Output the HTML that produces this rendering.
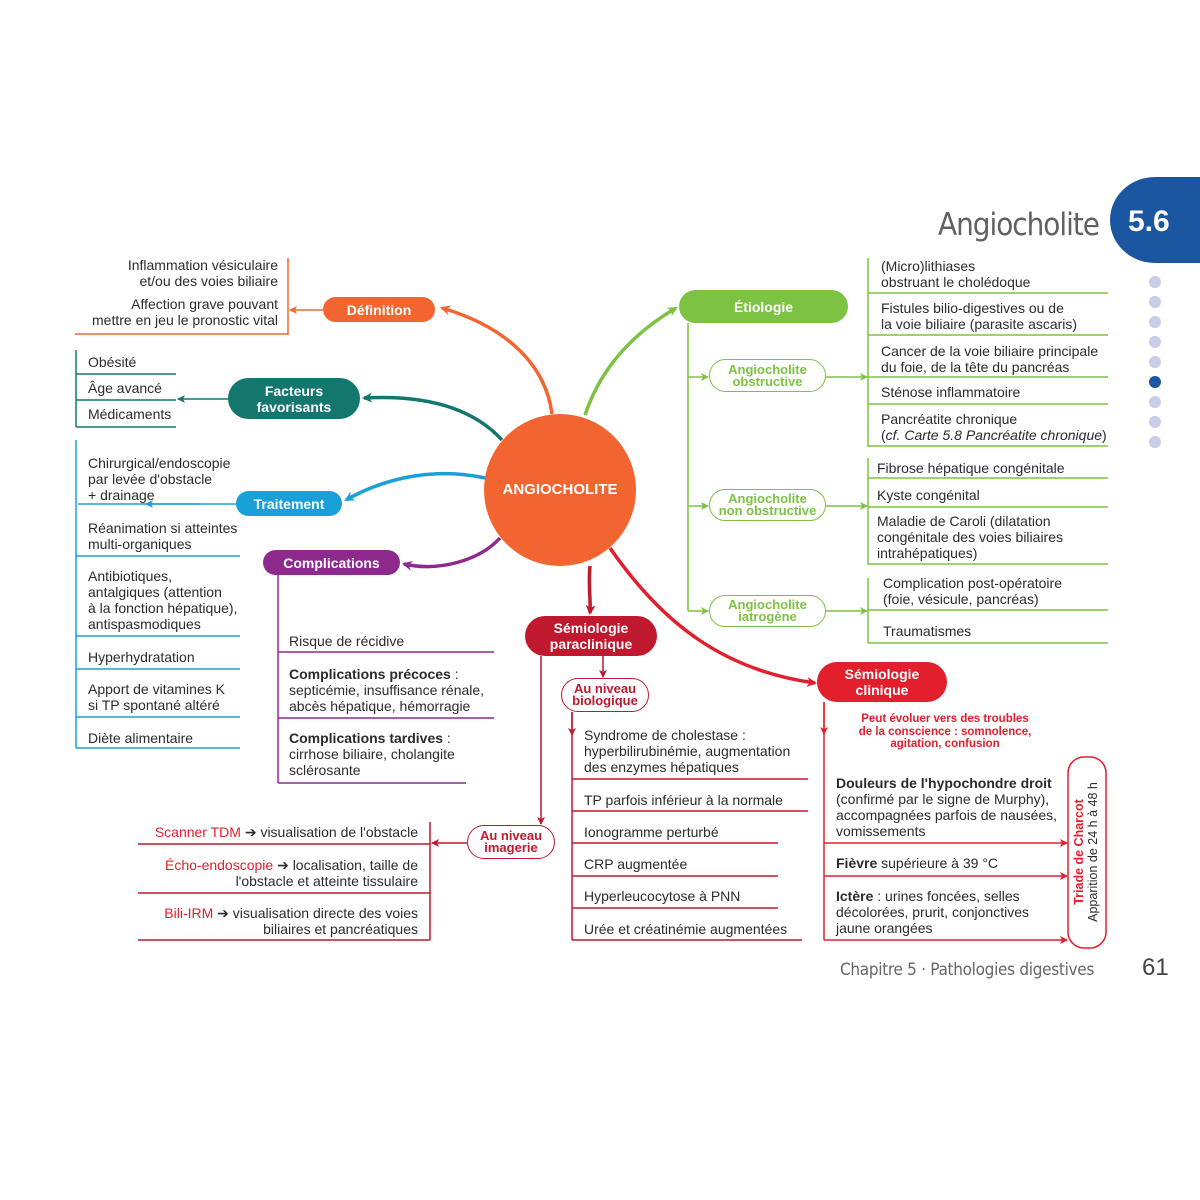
<!DOCTYPE html>
<html><head><meta charset="utf-8">
<style>
body{margin:0;width:1200px;height:1200px;background:#fff;position:relative;overflow:hidden;font-family:"Liberation Sans",sans-serif;}
.t{position:absolute;font-size:14px;line-height:16px;color:#2b2b2b;white-space:nowrap;}
.r{text-align:right;}
.p{position:absolute;border-radius:22px;color:#fff;font-weight:bold;font-size:14px;line-height:16px;text-align:center;display:flex;align-items:center;justify-content:center;}
.o{position:absolute;border-radius:18px;background:#fff;font-weight:bold;font-size:13px;line-height:12px;text-align:center;display:flex;align-items:center;justify-content:center;box-sizing:border-box;}
b{font-weight:bold;}
.red{color:#e31e2d;}
</style></head><body>
<svg width="1200" height="1200" style="position:absolute;left:0;top:0">
<defs>
<marker id="ao" markerWidth="10" markerHeight="10" refX="8" refY="5" orient="auto" markerUnits="userSpaceOnUse"><path d="M0,0 L10,5 L0,10 L3,5z" fill="#f26530"/></marker>
<marker id="at" markerWidth="10" markerHeight="10" refX="8" refY="5" orient="auto" markerUnits="userSpaceOnUse"><path d="M0,0 L10,5 L0,10 L3,5z" fill="#13776e"/></marker>
<marker id="ab" markerWidth="10" markerHeight="10" refX="8" refY="5" orient="auto" markerUnits="userSpaceOnUse"><path d="M0,0 L10,5 L0,10 L3,5z" fill="#1aa0d8"/></marker>
<marker id="ap" markerWidth="10" markerHeight="10" refX="8" refY="5" orient="auto" markerUnits="userSpaceOnUse"><path d="M0,0 L10,5 L0,10 L3,5z" fill="#8e2a8e"/></marker>
<marker id="ag" markerWidth="10" markerHeight="10" refX="8" refY="5" orient="auto" markerUnits="userSpaceOnUse"><path d="M0,0 L10,5 L0,10 L3,5z" fill="#7dc242"/></marker>
<marker id="ad" markerWidth="10" markerHeight="10" refX="8" refY="5" orient="auto" markerUnits="userSpaceOnUse"><path d="M0,0 L10,5 L0,10 L3,5z" fill="#c0182f"/></marker>
<marker id="ar" markerWidth="10" markerHeight="10" refX="8" refY="5" orient="auto" markerUnits="userSpaceOnUse"><path d="M0,0 L10,5 L0,10 L3,5z" fill="#e31e2d"/></marker>
<marker id="gs" markerWidth="8" markerHeight="8" refX="7" refY="4" orient="auto" markerUnits="userSpaceOnUse"><path d="M0,0 L8,4 L0,8 L2,4z" fill="#7dc242"/></marker>
<marker id="rs" markerWidth="8" markerHeight="8" refX="7" refY="4" orient="auto" markerUnits="userSpaceOnUse"><path d="M0,0 L8,4 L0,8 L2,4z" fill="#e31e2d"/></marker>
<marker id="ds" markerWidth="8" markerHeight="8" refX="7" refY="4" orient="auto" markerUnits="userSpaceOnUse"><path d="M0,0 L8,4 L0,8 L2,4z" fill="#c0182f"/></marker>
<marker id="os" markerWidth="8" markerHeight="8" refX="7" refY="4" orient="auto" markerUnits="userSpaceOnUse"><path d="M0,0 L8,4 L0,8 L2,4z" fill="#f26530"/></marker>
<marker id="ts" markerWidth="8" markerHeight="8" refX="7" refY="4" orient="auto" markerUnits="userSpaceOnUse"><path d="M0,0 L8,4 L0,8 L2,4z" fill="#13776e"/></marker>
<marker id="bs" markerWidth="8" markerHeight="8" refX="7" refY="4" orient="auto" markerUnits="userSpaceOnUse"><path d="M0,0 L8,4 L0,8 L2,4z" fill="#1aa0d8"/></marker>
</defs>
<path d="M1155,177 L1200,177 L1200,263 L1155,263 A45,43 0 0 1 1155,177z" fill="#1b56a0"/>
<g fill="#c8cde8"><circle cx="1155" cy="282" r="6"/><circle cx="1155" cy="302" r="6"/><circle cx="1155" cy="322" r="6"/><circle cx="1155" cy="342" r="6"/><circle cx="1155" cy="362" r="6"/><circle cx="1155" cy="402" r="6"/><circle cx="1155" cy="422" r="6"/><circle cx="1155" cy="442" r="6"/></g>
<circle cx="1155" cy="382" r="6" fill="#1b56a0"/>
<g fill="none" stroke-width="3.5">
<path d="M552,414 C545,360 500,325 442,308" stroke="#f26530" marker-end="url(#ao)"/>
<path d="M502,440 C470,405 420,395 364,398" stroke="#13776e" marker-end="url(#at)"/>
<path d="M485,478 C440,468 390,475 346,500" stroke="#1aa0d8" marker-end="url(#ab)"/>
<path d="M500,538 C480,560 440,572 404,564" stroke="#8e2a8e" marker-end="url(#ap)"/>
<path d="M585,415 C600,370 630,335 676,308" stroke="#7dc242" marker-end="url(#ag)"/>
<path d="M590,566 C588,585 591,600 590,613" stroke="#c0182f" marker-end="url(#ad)"/>
<path d="M610,548 C660,620 720,670 815,683" stroke="#e31e2d" marker-end="url(#ar)"/>
</g>
<g fill="none" stroke-width="1.5">
<g stroke="#f26530"><line x1="288" y1="258" x2="288" y2="335"/><line x1="75" y1="334" x2="288" y2="334"/><line x1="323" y1="310" x2="290" y2="310" marker-end="url(#os)"/></g>
<g stroke="#13776e"><line x1="76" y1="350" x2="76" y2="427"/><line x1="76" y1="374" x2="176" y2="374"/><line x1="76" y1="400" x2="176" y2="400"/><line x1="76" y1="427" x2="176" y2="427"/><line x1="228" y1="399" x2="178" y2="399" marker-end="url(#ts)"/></g>
<g stroke="#1aa0d8"><line x1="76" y1="440" x2="76" y2="748"/><line x1="236" y1="504" x2="78" y2="504"/><line x1="200" y1="504" x2="146" y2="504" marker-end="url(#bs)"/><line x1="76" y1="556" x2="240" y2="556"/><line x1="76" y1="636" x2="240" y2="636"/><line x1="76" y1="669" x2="240" y2="669"/><line x1="76" y1="717" x2="240" y2="717"/><line x1="76" y1="748" x2="240" y2="748"/></g>
<g stroke="#8e2a8e"><line x1="278" y1="575" x2="278" y2="783"/><line x1="278" y1="652" x2="494" y2="652"/><line x1="278" y1="718" x2="494" y2="718"/><line x1="278" y1="783" x2="466" y2="783"/></g>
<g stroke="#c0182f"><line x1="603" y1="656" x2="603" y2="677" marker-end="url(#ds)"/><line x1="541" y1="656" x2="541" y2="824" marker-end="url(#ds)"/>
<line x1="572" y1="712" x2="572" y2="940"/><line x1="572" y1="712" x2="572" y2="735" marker-end="url(#ds)"/>
<line x1="572" y1="779" x2="808" y2="779"/><line x1="572" y1="811" x2="808" y2="811"/><line x1="572" y1="843" x2="778" y2="843"/><line x1="572" y1="876" x2="778" y2="876"/><line x1="572" y1="908" x2="778" y2="908"/><line x1="572" y1="940" x2="802" y2="940"/>
<line x1="467" y1="843" x2="432" y2="843" marker-end="url(#ds)"/><line x1="430" y1="822" x2="430" y2="940"/><line x1="138" y1="844" x2="430" y2="844"/><line x1="138" y1="893" x2="430" y2="893"/><line x1="138" y1="940" x2="430" y2="940"/></g>
<g stroke="#e31e2d"><line x1="824" y1="702" x2="824" y2="940"/><line x1="824" y1="702" x2="824" y2="734" marker-end="url(#rs)"/>
<line x1="824" y1="843" x2="1067" y2="843" marker-end="url(#rs)"/><line x1="824" y1="876" x2="1067" y2="876" marker-end="url(#rs)"/><line x1="824" y1="940" x2="1067" y2="940" marker-end="url(#rs)"/>
<rect x="1068" y="757" width="38" height="191" rx="16"/></g>
<g stroke="#7dc242"><line x1="688" y1="323" x2="688" y2="611"/><line x1="688" y1="377" x2="708" y2="377" marker-end="url(#gs)"/><line x1="688" y1="506" x2="708" y2="506" marker-end="url(#gs)"/><line x1="688" y1="611" x2="708" y2="611" marker-end="url(#gs)"/>
<line x1="826" y1="377" x2="867" y2="377" marker-end="url(#gs)"/><line x1="826" y1="506" x2="867" y2="506" marker-end="url(#gs)"/><line x1="826" y1="611" x2="867" y2="611" marker-end="url(#gs)"/>
<line x1="868" y1="258" x2="868" y2="447"/><line x1="868" y1="458" x2="868" y2="565"/><line x1="868" y1="578" x2="868" y2="643"/>
<line x1="868" y1="293" x2="1108" y2="293"/><line x1="868" y1="335" x2="1108" y2="335"/><line x1="868" y1="377" x2="1108" y2="377"/><line x1="868" y1="404" x2="1108" y2="404"/><line x1="868" y1="446" x2="1108" y2="446"/><line x1="868" y1="478" x2="1108" y2="478"/><line x1="868" y1="507" x2="1108" y2="507"/><line x1="868" y1="564" x2="1108" y2="564"/><line x1="868" y1="610" x2="1108" y2="610"/><line x1="868" y1="643" x2="1108" y2="643"/></g>
</g>
<circle cx="560" cy="490" r="76" fill="#f26530"/>
<text x="1083" y="852" transform="rotate(-90 1083 852)" font-family="Liberation Sans" font-size="12.5" text-anchor="middle" fill="#e31e2d" font-weight="bold">Triade de Charcot</text>
<text x="1097" y="852" transform="rotate(-90 1097 852)" font-family="Liberation Sans" font-size="12.5" fill="#2b2b2b" text-anchor="middle">Apparition de 24 h à 48 h</text>
</svg>

<div class="t" style="left:938px;top:205px;font-size:31px;line-height:40px;color:#5f6068;font-family:'DejaVu Sans Condensed','Liberation Sans',sans-serif;letter-spacing:-1px">Angiocholite</div>
<div class="t" style="left:1128px;top:205px;font-size:30px;line-height:34px;color:#fff;font-weight:bold">5.6</div>

<div class="t" style="left:484px;top:482px;width:152px;text-align:center;color:#fff;font-weight:bold;font-size:15px">ANGIOCHOLITE</div>

<div class="p" style="left:323px;top:297px;width:112px;height:25px;background:#f26530">Définition</div>
<div class="p" style="left:228px;top:378px;width:132px;height:41px;background:#13776e">Facteurs<br>favorisants</div>
<div class="p" style="left:236px;top:491px;width:106px;height:25px;background:#1aa0d8">Traitement</div>
<div class="p" style="left:263px;top:550px;width:137px;height:25px;background:#8e2a8e">Complications</div>
<div class="p" style="left:679px;top:290px;width:169px;height:33px;background:#7dc242">Étiologie</div>
<div class="p" style="left:525px;top:616px;width:132px;height:40px;background:#c0182f">Sémiologie<br>paraclinique</div>
<div class="p" style="left:817px;top:662px;width:130px;height:40px;background:#e31e2d">Sémiologie<br>clinique</div>

<div class="o" style="left:709px;top:359px;width:117px;height:33px;border:1.5px solid #7dc242;color:#7dc242">Angiocholite<br>obstructive</div>
<div class="o" style="left:709px;top:489px;width:117px;height:32px;border:1.5px solid #7dc242;color:#7dc242">Angiocholite<br>non obstructive</div>
<div class="o" style="left:709px;top:595px;width:117px;height:32px;border:1.5px solid #7dc242;color:#7dc242">Angiocholite<br>iatrogène</div>
<div class="o" style="left:561px;top:678px;width:88px;height:34px;border:1.5px solid #c0182f;color:#c0182f">Au niveau<br>biologique</div>
<div class="o" style="left:467px;top:825px;width:88px;height:34px;border:1.5px solid #c0182f;color:#c0182f">Au niveau<br>imagerie</div>

<div class="t r" style="right:922px;top:257px">Inflammation vésiculaire<br>et/ou des voies biliaire</div>
<div class="t r" style="right:922px;top:296px">Affection grave pouvant<br>mettre en jeu le pronostic vital</div>
<div class="t" style="left:88px;top:354px">Obésité</div>
<div class="t" style="left:88px;top:380px">Âge avancé</div>
<div class="t" style="left:88px;top:406px">Médicaments</div>
<div class="t" style="left:88px;top:455px">Chirurgical/endoscopie<br>par levée d'obstacle<br>+ drainage</div>
<div class="t" style="left:88px;top:520px">Réanimation si atteintes<br>multi-organiques</div>
<div class="t" style="left:88px;top:568px">Antibiotiques,<br>antalgiques (attention<br>à la fonction hépatique),<br>antispasmodiques</div>
<div class="t" style="left:88px;top:649px">Hyperhydratation</div>
<div class="t" style="left:88px;top:681px">Apport de vitamines K<br>si TP spontané altéré</div>
<div class="t" style="left:88px;top:730px">Diète alimentaire</div>
<div class="t" style="left:289px;top:633px">Risque de récidive</div>
<div class="t" style="left:289px;top:666px"><b>Complications précoces</b> :<br>septicémie, insuffisance rénale,<br>abcès hépatique, hémorragie</div>
<div class="t" style="left:289px;top:730px"><b>Complications tardives</b> :<br>cirrhose biliaire, cholangite<br>sclérosante</div>
<div class="t r" style="right:782px;top:824px"><span class="red">Scanner TDM</span> ➔ visualisation de l'obstacle</div>
<div class="t r" style="right:782px;top:857px"><span class="red">Écho-endoscopie</span> ➔ localisation, taille de<br>l'obstacle et atteinte tissulaire</div>
<div class="t r" style="right:782px;top:905px"><span class="red">Bili-IRM</span> ➔ visualisation directe des voies<br>biliaires et pancréatiques</div>
<div class="t" style="left:584px;top:727px">Syndrome de cholestase :<br>hyperbilirubinémie, augmentation<br>des enzymes hépatiques</div>
<div class="t" style="left:584px;top:792px">TP parfois inférieur à la normale</div>
<div class="t" style="left:584px;top:824px">Ionogramme perturbé</div>
<div class="t" style="left:584px;top:856px">CRP augmentée</div>
<div class="t" style="left:584px;top:888px">Hyperleucocytose à PNN</div>
<div class="t" style="left:584px;top:921px">Urée et créatinémie augmentées</div>
<div class="t" style="left:845px;top:713px;width:200px;text-align:center;font-size:11.5px;line-height:12.5px;color:#e31e2d;font-weight:bold">Peut évoluer vers des troubles<br>de la conscience : somnolence,<br>agitation, confusion</div>
<div class="t" style="left:836px;top:775px"><b>Douleurs de l'hypochondre droit</b><br>(confirmé par le signe de Murphy),<br>accompagnées parfois de nausées,<br>vomissements</div>
<div class="t" style="left:836px;top:855px"><b>Fièvre</b> supérieure à 39 °C</div>
<div class="t" style="left:836px;top:888px"><b>Ictère</b> : urines foncées, selles<br>décolorées, prurit, conjonctives<br>jaune orangées</div>
<div class="t" style="left:881px;top:258px">(Micro)lithiases<br>obstruant le cholédoque</div>
<div class="t" style="left:881px;top:300px">Fistules bilio-digestives ou de<br>la voie biliaire (parasite ascaris)</div>
<div class="t" style="left:881px;top:343px">Cancer de la voie biliaire principale<br>du foie, de la tête du pancréas</div>
<div class="t" style="left:881px;top:384px">Sténose inflammatoire</div>
<div class="t" style="left:881px;top:411px">Pancréatite chronique<br>(<i>cf. Carte 5.8 Pancréatite chronique</i>)</div>
<div class="t" style="left:877px;top:460px">Fibrose hépatique congénitale</div>
<div class="t" style="left:877px;top:487px">Kyste congénital</div>
<div class="t" style="left:877px;top:513px">Maladie de Caroli (dilatation<br>congénitale des voies biliaires<br>intrahépatiques)</div>
<div class="t" style="left:883px;top:575px">Complication post-opératoire<br>(foie, vésicule, pancréas)</div>
<div class="t" style="left:883px;top:623px">Traumatismes</div>
<div class="t" style="left:840px;top:960px;font-size:17px;line-height:20px;color:#666;font-family:'DejaVu Sans Condensed','Liberation Sans',sans-serif;letter-spacing:-0.3px">Chapitre 5 · Pathologies digestives</div>
<div class="t" style="left:1142px;top:954px;font-size:24px;line-height:28px;color:#444">61</div>
</body></html>
